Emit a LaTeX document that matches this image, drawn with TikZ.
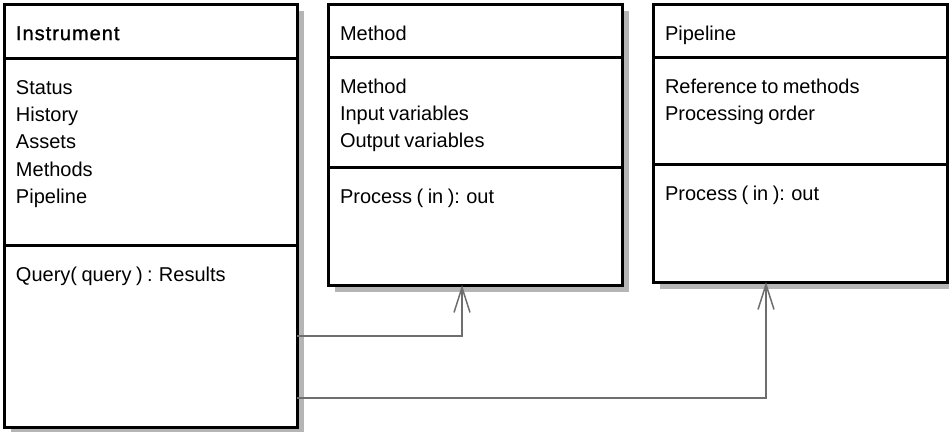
\documentclass[tikz,border=0pt]{standalone}
\usepackage{fontspec}
\newfontfamily\umlfont[WordSpace=0.8]{Liberation Sans}
\usetikzlibrary{positioning,shadows,arrows.meta}

% compartment text, top aligned: height, width, lines
\newcommand{\comptext}[3]{\parbox[c][#1][t]{#2}{\strut #3}}

\tikzset{
  compart/.style={draw, line width=3pt, fill=white, outer sep=0pt,
    inner xsep=12pt, inner ysep=17pt, anchor=north,
    font=\umlfont\fontsize{20}{27.3}\selectfont,
    drop shadow={shadow xshift=7pt, shadow yshift=-7pt, fill=black!29, opacity=1}},
  assoc/.style={draw=black!57, line width=1.5pt,
    -{Straight Barb[length=25pt, width=16pt]}}
}

\begin{document}
\begin{tikzpicture}[x=1pt, y=-1pt]
\useasboundingbox (0,0) rectangle (949,431);

% Instrument
\node[compart] (ititle) at (150.5, 4) {\comptext{20pt}{269pt}{{\addfontfeature{FakeBold=1.2, LetterSpace=5}Instrument}}};
\node[compart, below=0pt of ititle] (iattr) {\comptext{153pt}{269pt}{Status\\History\\Assets\\Methods\\Pipeline}};
\node[compart, below=0pt of iattr] (iops) {\comptext{148pt}{269pt}{Query( query ) : Results}};

% Method
\node[compart] (mtitle) at (475, 4) {\comptext{19pt}{270pt}{Method}};
\node[compart, below=0pt of mtitle] (mattr) {\comptext{76pt}{270pt}{Method\\Input variables\\Output variables}};
\node[compart, below=0pt of mattr] (mops) {\comptext{84pt}{270pt}{Process ( in ): out}};

% Pipeline
\node[compart] (ptitle) at (800, 4) {\comptext{19pt}{270pt}{Pipeline}};
\node[compart, below=0pt of ptitle] (pattr) {\comptext{73pt}{270pt}{Reference to methods\\Processing order}};
\node[compart, below=0pt of pattr] (pops) {\comptext{84pt}{270pt}{Process ( in ): out}};

\draw[assoc] (iops.east) -| ([xshift=-13pt]mops.south);
\draw[assoc] ([yshift=-62pt]iops.east) -| ([xshift=-34pt]pops.south);
\end{tikzpicture}
\end{document}
